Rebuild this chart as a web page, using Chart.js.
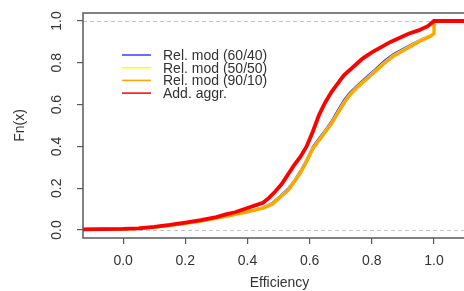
<!DOCTYPE html>
<html>
<head>
<meta charset="utf-8">
<script src="https://cdn.jsdelivr.net/npm/chart.js@4.4.1/dist/chart.umd.min.js"></script>
<style>
  html, body { margin: 0; padding: 0; background: #fff; overflow: hidden; }
  #wrap { width: 464px; height: 291px; overflow: hidden; }
</style>
</head>
<body>
<div id="wrap"><canvas id="chart" width="476" height="291"></canvas></div>
<script>
// 数据：效率的经验分布函数
const seriesLabels = ['Rel. mod (60/40)', 'Rel. mod (50/50)', 'Rel. mod (90/10)', 'Add. aggr.'];
const seriesColors = ['#3b3bff', '#ffff00', '#ffa500', '#ff0000'];

const relX      = [-0.13, 0.0, 0.05, 0.1, 0.15, 0.2, 0.25, 0.3, 0.35, 0.4, 0.45, 0.48, 0.51, 0.53, 0.55, 0.57, 0.59, 0.61, 0.63, 0.65, 0.67, 0.69, 0.71, 0.73, 0.75, 0.78, 0.81, 0.84, 0.87, 0.90, 0.93, 0.96, 0.99, 1.0, 1.0, 1.14];
const relBlue   = [0.003, 0.006, 0.009, 0.015, 0.023, 0.033, 0.045, 0.059, 0.074, 0.09, 0.108, 0.13, 0.17, 0.197, 0.236, 0.283, 0.338, 0.398, 0.44, 0.478, 0.52, 0.572, 0.622, 0.66, 0.688, 0.728, 0.768, 0.81, 0.843, 0.866, 0.89, 0.913, 0.932, 0.94, 1.0, 1.0];
const relYellow = [0.003, 0.005, 0.008, 0.014, 0.022, 0.032, 0.043, 0.057, 0.072, 0.088, 0.105, 0.125, 0.165, 0.19, 0.23, 0.275, 0.33, 0.39, 0.43, 0.47, 0.51, 0.56, 0.61, 0.65, 0.68, 0.72, 0.76, 0.80, 0.835, 0.86, 0.885, 0.91, 0.93, 0.94, 1.0, 1.0];
const relOrange = [0.003, 0.005, 0.008, 0.014, 0.022, 0.031, 0.042, 0.056, 0.071, 0.087, 0.104, 0.123, 0.163, 0.188, 0.228, 0.272, 0.327, 0.387, 0.428, 0.468, 0.508, 0.557, 0.606, 0.647, 0.678, 0.718, 0.757, 0.797, 0.832, 0.857, 0.882, 0.907, 0.928, 0.94, 1.0, 1.0];

const addX   = [-0.13, 0.0, 0.05, 0.1, 0.15, 0.2, 0.25, 0.3, 0.33, 0.36, 0.4, 0.43, 0.45, 0.47, 0.49, 0.51, 0.53, 0.55, 0.57, 0.59, 0.61, 0.63, 0.65, 0.67, 0.69, 0.71, 0.74, 0.77, 0.80, 0.83, 0.86, 0.89, 0.92, 0.95, 0.98, 1.0, 1.14];
const addRed = [0.003, 0.005, 0.008, 0.015, 0.024, 0.035, 0.047, 0.062, 0.075, 0.085, 0.105, 0.12, 0.13, 0.155, 0.185, 0.22, 0.265, 0.31, 0.35, 0.40, 0.47, 0.55, 0.61, 0.66, 0.70, 0.74, 0.78, 0.82, 0.85, 0.875, 0.90, 0.92, 0.94, 0.955, 0.975, 1.0, 1.0];

const xTicks = [0.0, 0.2, 0.4, 0.6, 0.8, 1.0];
const yTicks = [0.0, 0.2, 0.4, 0.6, 0.8, 1.0];
const refLines = [0, 1];

const pts = (xs, ys) => xs.map((x, i) => ({ x: x, y: ys[i] }));

const seriesData = [pts(relX, relBlue), pts(relX, relYellow), pts(relX, relOrange), pts(addX, addRed)];
const widths = [2, 3, 3.2, 3.8];

const font = "'Liberation Sans', Arial, sans-serif";

const decor = {
  id: 'decor',
  beforeDatasetsDraw(chart) {
    const { ctx, chartArea: a, scales: { y } } = chart;
    ctx.save();
    ctx.strokeStyle = '#c4c4c4';
    ctx.lineWidth = 1;
    ctx.setLineDash([4, 3]);
    refLines.forEach(v => {
      const py = Math.round(y.getPixelForValue(v)) + 0.5;
      ctx.beginPath();
      ctx.moveTo(a.left, py);
      ctx.lineTo(a.right, py);
      ctx.stroke();
    });
    ctx.restore();
  },
  afterDraw(chart) {
    const { ctx, chartArea: a, scales: { x, y } } = chart;
    ctx.save();
    // 边框
    ctx.strokeStyle = '#5a5a5a';
    ctx.lineWidth = 1.5;
    ctx.strokeRect(a.left, a.top, a.right - a.left + 10, a.bottom - a.top);

    // y 轴刻度文字（竖排）
    ctx.fillStyle = '#333';
    ctx.font = '14px ' + font;
    ctx.textAlign = 'center';
    ctx.textBaseline = 'middle';
    yTicks.forEach(v => {
      ctx.save();
      ctx.translate(57, y.getPixelForValue(v));
      ctx.rotate(-Math.PI / 2);
      ctx.fillText(v.toFixed(1), 0, 0);
      ctx.restore();
    });
    ctx.save();
    ctx.translate(20, (a.top + a.bottom) / 2);
    ctx.rotate(-Math.PI / 2);
    ctx.fillText('Fn(x)', 0, 0);
    ctx.restore();

    // x 轴标题
    ctx.fillText('Efficiency', (a.left + a.right) / 2, 283);

    // 图例
    ctx.textAlign = 'left';
    seriesLabels.forEach((lab, i) => {
      const ly = 55 + i * 12.7;
      ctx.strokeStyle = seriesColors[i];
      ctx.lineWidth = 1.5;
      ctx.beginPath();
      ctx.moveTo(122, ly);
      ctx.lineTo(151, ly);
      ctx.stroke();
      ctx.fillStyle = '#333';
      ctx.fillText(lab, 163, ly + 1);
    });
    ctx.restore();
  }
};

new Chart(document.getElementById('chart'), {
  type: 'scatter',
  data: {
    datasets: seriesData.map((d, i) => ({
      label: seriesLabels[i],
      data: d,
      showLine: true,
      order: seriesData.length - i,
      borderColor: seriesColors[i],
      backgroundColor: seriesColors[i],
      borderWidth: widths[i],
      pointRadius: 0,
      tension: 0
    }))
  },
  options: {
    responsive: false,
    animation: false,
    devicePixelRatio: 1,
    layout: { padding: { top: 13, left: 0, right: 0, bottom: 0 } },
    plugins: { legend: { display: false }, tooltip: { enabled: false } },
    scales: {
      x: {
        type: 'linear',
        min: -0.129,
        max: 1.135,
        afterFit: s => { s.height = 53; },
        afterBuildTicks: s => { s.ticks = xTicks.map(v => ({ value: v })); },
        grid: { drawOnChartArea: false, drawTicks: true, tickLength: 6, color: '#5a5a5a', lineWidth: 1.2 },
        border: { display: false },
        ticks: {
          color: '#333',
          font: { size: 14, family: font },
          padding: 9,
          maxRotation: 0,
          callback: v => Number(v).toFixed(1)
        }
      },
      y: {
        type: 'linear',
        min: -0.0383,
        max: 1.0383,
        afterFit: s => { s.width = 83; },
        afterBuildTicks: s => { s.ticks = yTicks.map(v => ({ value: v })); },
        grid: { drawOnChartArea: false, drawTicks: true, tickLength: 6, color: '#5a5a5a', lineWidth: 1.2 },
        border: { display: false },
        ticks: { display: false }
      }
    }
  },
  plugins: [decor]
});
</script>
</body>
</html>
